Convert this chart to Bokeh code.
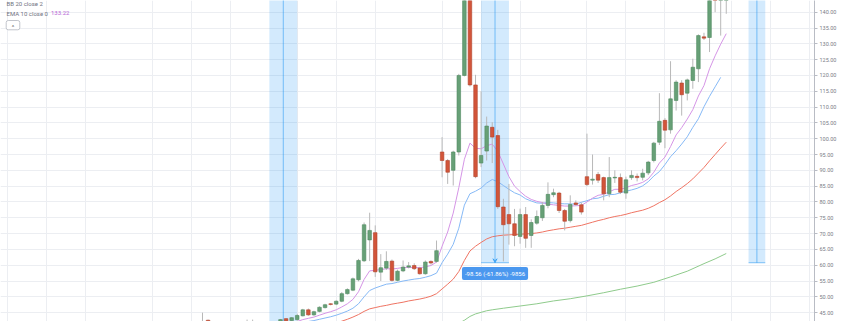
from bokeh.plotting import figure
from bokeh.models import (Range1d, FixedTicker, PrintfTickFormatter, Grid, Label,
                          BoxAnnotation, Arrow, VeeHead, ColumnDataSource)
from bokeh.embed import file_html
from bokeh.resources import INLINE

# ---------------- data (bar number, OHLC) ----------------
first_bar = -14
opens = [41.0, 42.6, 41.0, 40.4, 41.0, 40.6, 41.1, 40.8, 41.3, 41.7, 41.2, 41.5, 41.1, 41.6,
         42.0, 43.1, 42.5, 42.8, 44.0, 45.9, 44.3, 45.4, 46.6, 47.8, 47.7, 48.6, 51.0, 52.1,
         55.4, 61.4, 68.0, 70.3, 57.8, 59.1, 61.3, 55.2, 58.2, 59.4, 59.9, 59.1, 57.3, 61.2,
         61.2, 95.8, 93.1, 90.0, 95.8, 120.0, 152.0, 117.0, 92.3, 96.1, 103.6, 101.0, 78.4, 76.0,
         73.1, 69.1, 76.0, 69.4, 73.3, 75.0, 78.9, 82.3, 82.8, 77.3, 74.1, 79.7, 79.1, 88.0,
         86.9, 88.7, 87.7, 82.6, 87.6, 87.7, 82.8, 87.7, 88.1, 87.8, 89.2, 93.1, 98.9, 105.8,
         102.8, 112.1, 117.6, 114.4, 118.4, 122.1, 132.2, 132.0, 146.5, 145.0, 146.5]
highs = [45.0, 42.8, 41.6, 41.5, 41.8, 41.4, 41.9, 41.7, 42.8, 42.8, 41.9, 42.0, 41.9, 42.1,
         43.0, 43.3, 43.6, 44.6, 46.2, 46.3, 45.6, 47.0, 47.8, 48.0, 48.9, 51.5, 52.7, 56.1,
         62.0, 73.5, 76.6, 72.6, 63.5, 64.4, 61.8, 58.6, 61.5, 61.0, 60.6, 59.5, 61.5, 61.5,
         67.8, 100.5, 93.6, 96.2, 120.5, 155.0, 156.0, 120.2, 115.0, 107.0, 105.2, 102.8, 81.0, 85.7,
         77.8, 77.9, 78.4, 74.5, 77.3, 80.0, 86.2, 84.2, 83.2, 77.8, 82.1, 80.5, 79.8, 101.6,
         95.0, 89.5, 88.0, 94.2, 90.0, 89.0, 88.0, 90.0, 89.0, 90.5, 93.0, 99.0, 114.4, 106.5,
         124.5, 118.5, 118.5, 119.0, 125.3, 133.0, 133.5, 148.0, 150.0, 149.0, 150.0]
lows = [39.5, 40.5, 39.8, 39.6, 40.2, 39.9, 40.3, 40.1, 40.6, 40.9, 40.5, 40.8, 40.4, 40.9,
        41.8, 42.0, 42.2, 42.5, 43.8, 44.0, 44.0, 45.1, 46.3, 47.3, 47.4, 48.3, 50.7, 51.8,
        54.9, 61.0, 61.3, 56.3, 55.0, 58.5, 54.8, 54.9, 57.8, 59.0, 58.5, 57.0, 57.0, 60.2,
        60.8, 87.8, 85.7, 85.2, 94.7, 119.7, 116.5, 87.5, 91.0, 93.1, 92.3, 77.8, 61.2, 66.5,
        66.0, 66.8, 65.5, 65.5, 72.8, 74.0, 78.0, 81.5, 76.5, 71.0, 73.5, 78.8, 76.0, 85.0,
        85.5, 86.0, 80.5, 81.5, 86.0, 82.5, 81.0, 87.0, 86.5, 86.8, 88.5, 92.5, 98.0, 97.0,
        101.6, 108.9, 107.3, 112.1, 115.8, 117.9, 131.2, 127.4, 140.0, 132.6, 139.5]
closes = [41.6, 41.0, 40.4, 41.0, 40.6, 41.1, 40.8, 41.3, 41.7, 41.2, 41.5, 41.1, 41.6, 42.0,
          42.8, 42.4, 43.4, 44.1, 45.9, 44.3, 45.3, 46.7, 47.5, 47.6, 48.6, 51.0, 52.3, 55.7,
          61.5, 72.8, 71.0, 57.9, 59.2, 61.2, 55.2, 58.1, 59.4, 59.8, 58.9, 57.3, 61.0, 60.7,
          64.6, 93.1, 89.4, 95.8, 120.0, 150.0, 117.0, 88.0, 94.7, 104.0, 100.5, 78.5, 72.8, 73.1,
          69.4, 76.0, 68.5, 73.5, 75.4, 78.9, 82.4, 82.9, 77.3, 73.9, 79.2, 79.2, 76.8, 85.5,
          87.2, 86.9, 82.6, 87.7, 87.8, 83.1, 87.0, 88.4, 87.7, 89.1, 92.6, 98.6, 105.5, 102.7,
          112.6, 117.9, 113.9, 118.6, 122.6, 132.6, 131.8, 146.0, 145.0, 146.5, 148.0]

# EMA 10 (purple), bars 0..80
ema10_start = 0
ema10 = [41.0, 41.4, 41.8, 42.2, 42.8, 43.2, 43.6, 44.2, 44.8, 45.3, 45.9, 46.8, 47.8, 49.2,
         51.6, 55.5, 58.2, 58.4, 58.6, 58.9, 58.8, 59.0, 59.3, 59.3, 59.3, 59.2, 59.5, 59.9,
         61.0, 66.0, 70.5, 76.5, 84.5, 93.5, 98.6, 97.0, 96.8, 97.8, 98.3, 96.0, 92.0, 88.0,
         85.0, 83.3, 81.8, 80.8, 80.2, 79.8, 79.3, 79.1, 78.9, 78.7, 78.7, 78.8, 78.9, 80.0,
         81.2, 82.1, 82.4, 83.2, 84.0, 84.0, 84.5, 85.2, 85.6, 86.2, 87.3, 89.4, 92.3, 94.2,
         97.5, 101.2, 103.5, 106.2, 109.2, 113.5, 116.8, 122.1, 126.2, 129.9, 133.22]
# EMA 20 (blue), bars 3..80
ema20_start = 3
ema20 = [41.2, 41.7, 42.2, 42.5, 42.9, 43.3, 43.7, 44.2, 44.8, 45.5, 46.4, 47.8, 50.0, 52.0,
         52.8, 53.4, 54.0, 54.2, 54.6, 55.0, 55.3, 55.6, 55.8, 56.2, 56.7, 57.5, 60.8, 63.5,
         66.6, 71.7, 79.0, 82.6, 83.4, 84.4, 86.0, 87.1, 86.4, 85.2, 84.0, 82.9, 82.2, 81.0,
         80.3, 79.7, 79.6, 79.8, 79.7, 79.5, 79.4, 79.4, 79.3, 79.9, 80.4, 81.0, 81.2, 81.8,
         82.3, 82.4, 82.9, 83.4, 83.8, 84.3, 85.1, 86.4, 88.2, 89.6, 91.8, 94.3, 96.2, 98.3,
         100.6, 103.6, 106.3, 110.1, 113.4, 116.4, 119.4]
# EMA 50 (red), bars 10..80
ema50_start = 10
ema50 = [41.8, 42.3, 42.9, 43.6, 44.4, 45.4, 46.2, 46.6, 47.0, 47.3, 47.7, 48.0, 48.3, 48.7,
         49.0, 49.3, 49.7, 50.2, 51.0, 52.5, 54.0, 55.6, 58.0, 61.5, 64.5, 66.0, 67.2, 68.3,
         69.0, 69.3, 69.5, 69.6, 69.7, 69.8, 69.9, 70.0, 70.2, 70.5, 70.9, 71.2, 71.5, 71.7,
         72.0, 72.3, 72.6, 73.1, 73.6, 74.1, 74.5, 75.0, 75.4, 75.7, 76.1, 76.6, 77.0, 77.4,
         78.0, 78.8, 79.8, 80.7, 81.9, 83.3, 84.5, 85.8, 87.3, 89.1, 90.9, 93.0, 95.0, 97.0, 98.9]
# long moving average (green), sampled bars
ma_long_bars = [31, 32, 33, 34, 35, 36, 37, 38, 40, 43, 46, 49, 52, 55, 58, 61, 64, 67, 70, 73, 76, 78, 80]
ma_long = [41.0, 41.6, 42.6, 43.8, 44.6, 45.1, 45.6, 45.9, 46.4, 47.1, 47.8, 48.7, 49.4, 50.3,
           51.3, 52.4, 53.4, 54.6, 56.3, 58.1, 60.5, 62.0, 63.7]

# date/price range drawings
range_left = [-2, 36, 84]
range_right = [3, 41, 87]
range_top = [170.0, 159.34, 159.34]
range_bottom = [20.0, 60.78, 60.78]
range_label = "-98.56 (-61.86%) -9856"

y_ticks = list(range(45, 145, 5))
x_grid_bars = [-49, -42, -35, -23, -16, -9, 3, 10, 17, 29, 36, 43, 55, 62, 69, 81, 88, 95]

# ---------------- geometry helpers ----------------
X0_PX, DX = 280.0, 5.572
Y_TOP, KY = 143.7, 3.1626
FRAME_W, FRAME_H = 814, 321


def px2x(px):
    return (px - X0_PX) / DX


def px2y(py):
    return Y_TOP - py / KY


FONT = "Roboto"
GREEN, GREEN_L = "#67a077", "#4f8960"
RED, RED_L = "#d2553a", "#b0432b"
WICK = "#b8b8b8"
BLUE = "#2196f3"

p = figure(width=845, height=321, output_backend="svg", toolbar_location=None,
           x_range=Range1d(px2x(0), px2x(FRAME_W)), y_range=Range1d(px2y(FRAME_H), Y_TOP),
           x_axis_location=None, y_axis_location="right",
           min_border_left=0, min_border_top=0, min_border_bottom=0, min_border_right=31,
           outline_line_color=None, background_fill_color="white", border_fill_color="white")

# grids
p.xgrid.visible = False
p.ygrid.ticker = FixedTicker(ticks=y_ticks)
p.ygrid.grid_line_color = "#eceef2"
p.ygrid.grid_line_width = 1
vgrid = Grid(dimension=0, ticker=FixedTicker(ticks=x_grid_bars),
             grid_line_color="#eceef2", grid_line_width=1)
p.add_layout(vgrid)

# y axis on the right
ax = p.yaxis[0]
ax.ticker = FixedTicker(ticks=y_ticks)
ax.formatter = PrintfTickFormatter(format="%.2f")
ax.major_label_text_font = FONT
ax.major_label_text_font_size = "5.5px"
ax.major_label_text_color = "#7a7d86"
ax.axis_line_color = "#b9bcc4"
ax.major_tick_line_color = "#b9bcc4"
ax.major_tick_out = 3
ax.major_tick_in = 0
ax.minor_tick_line_color = None
ax.major_label_standoff = 2

# range drawings (bands)
p.quad(left=range_left, right=range_right, top=range_top, bottom=range_bottom,
       fill_color=BLUE, fill_alpha=0.2, line_color=None)
mid = [(a + b) / 2 for a, b in zip(range_left, range_right)]
p.segment(x0=mid[:1] + mid[2:], y0=[range_top[0], range_top[2]],
          x1=mid[:1] + mid[2:], y1=[range_bottom[0], range_bottom[2]],
          line_color=BLUE, line_alpha=0.55, line_width=1)
p.segment(x0=range_left[1:], y0=range_bottom[1:], x1=range_right[1:], y1=range_bottom[1:],
          line_color=BLUE, line_alpha=0.55, line_width=1)
p.add_layout(Arrow(end=VeeHead(size=4, line_color=BLUE, line_alpha=0.7, fill_color=BLUE, fill_alpha=0.6),
                   x_start=mid[1], y_start=range_top[1], x_end=mid[1], y_end=range_bottom[1],
                   line_color=BLUE, line_alpha=0.55, line_width=1))

# moving averages
p.line(list(range(ema50_start, ema50_start + len(ema50))), ema50, line_color="#ef7463", line_width=1)
p.line(ma_long_bars, ma_long, line_color="#8fcb8c", line_width=1)
p.line(list(range(ema20_start, ema20_start + len(ema20))), ema20, line_color="#86b9f6", line_width=1)
p.line(list(range(ema10_start, ema10_start + len(ema10))), ema10, line_color="#d595e6", line_width=1)

# candles
bars = list(range(first_bar, first_bar + len(opens)))
up = [c >= o for o, c in zip(opens, closes)]
src = ColumnDataSource(dict(
    x=bars, h=highs, l=lows,
    top=[max(o, c) for o, c in zip(opens, closes)],
    bottom=[min(o, c) for o, c in zip(opens, closes)],
    fill=[GREEN if u else RED for u in up],
    line=[GREEN_L if u else RED_L for u in up],
))
p.segment(x0="x", y0="l", x1="x", y1="h", source=src, line_color=WICK, line_width=1)
p.vbar(x="x", width=0.64, top="top", bottom="bottom", source=src,
       fill_color="fill", line_color="line", line_width=0.6)

# measurement label
p.add_layout(Label(x=mid[1], y=px2y(273), text=range_label, text_align="center",
                   text_baseline="middle", text_font=FONT, text_font_size="6px",
                   text_color="white", background_fill_color="#4b98ef",
                   padding=3, border_radius=2))

# legend texts (top-left)
p.add_layout(Label(x=px2x(6), y=px2y(2.8), text="BB 20 close 2", text_baseline="alphabetic",
                   text_font=FONT, text_font_size="6px", text_color="#707380"))
p.add_layout(Label(x=px2x(6), y=px2y(12.9), text="EMA 10 close 0", text_baseline="middle",
                   text_font=FONT, text_font_size="6px", text_color="#707380"))
p.add_layout(Label(x=px2x(50.5), y=px2y(12.9), text=f"{ema10[-1]:.2f}", text_baseline="middle",
                   text_font=FONT, text_font_size="6px", text_color="#b865d6"))
p.add_layout(BoxAnnotation(left=px2x(5.7), right=px2x(19.3), top=px2y(20), bottom=px2y(29.3),
                           fill_color="white", fill_alpha=1, line_color="#c2c5cc", line_alpha=1,
                           line_width=1, border_radius=2, level="overlay"))
p.add_layout(Label(x=px2x(12.5), y=px2y(25.8), text="^", text_align="center",
                   text_baseline="middle", text_font=FONT, text_font_size="6px",
                   text_color="#555", level="overlay"))

open("out.html", "w").write(file_html(p, INLINE))
